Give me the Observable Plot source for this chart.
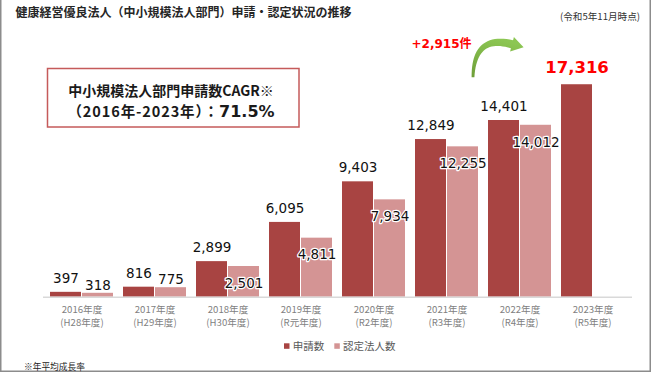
<!DOCTYPE html>
<html><head><meta charset="utf-8">
<script src="https://cdn.jsdelivr.net/npm/d3@7"></script>
<script src="https://cdn.jsdelivr.net/npm/@observablehq/plot@0.6"></script>
<style>
body{margin:0;background:#fff;}
#wrap{position:relative;width:652px;height:373px;overflow:hidden;background:#fff;}
#chart{position:absolute;left:0;top:0;}
#ann{position:absolute;left:0;top:0;pointer-events:none;}
</style></head>
<body>
<div id="wrap">
<div id="chart"></div>
<svg id="ann" width="652" height="373" font-family="'Noto Sans CJK JP', sans-serif">
  <path d="M0.75,0 V371.25 H650.25 V0" fill="none" stroke="#8c8c8c" stroke-width="1.5"/>
  <text x="15.5" y="16.5" font-size="12" font-weight="bold" fill="#262626">健康経営優良法人（中小規模法人部門）申請・認定状況の推移</text>
  <text x="640" y="19.6" text-anchor="end" font-size="9.6" fill="#333">(令和5年11月時点)</text>
  <rect x="47.5" y="68.5" width="251.5" height="58.5" fill="#fff" stroke="#C55A5A" stroke-width="1.5"/>
  <text x="171" y="96" text-anchor="middle" font-size="14" font-weight="bold" fill="#1a1a1a">中小規模法人部門申請数CAGR※</text>
  <text x="171" y="116.6" text-anchor="middle" font-size="14" font-weight="bold" fill="#1a1a1a"><tspan id="period" font-size="14.5" letter-spacing="0.9">（2016年-2023年）：</tspan><tspan id="cagrv" font-family="'DejaVu Sans'" font-size="16">71.5%</tspan></text>
  <g id="legend"></g>
  <text x="24" y="369.5" font-size="8.7" fill="#222">※年平均成長率</text>
</svg>
</div>
<script>
const years = ["2016年度","2017年度","2018年度","2019年度","2020年度","2021年度","2022年度","2023年度"];
const eras = ["H28年度","H29年度","H30年度","R元年度","R2年度","R3年度","R4年度","R5年度"];
const applications = [397, 816, 2899, 6095, 9403, 12849, 14401, 17316];
const certified = [318, 775, 2501, 4811, 7934, 12255, 14012, null];
const seriesNames = ["申請数", "認定法人数"];
const colors = ["#A84442", "#D49494"];

const fmt = d3.format(",");
const appData = years.map((y, i) => ({year: y, value: applications[i]}));
const certData = years.map((y, i) => ({year: y, value: certified[i]})).filter(d => d.value != null);
const tickData = years.map((y, i) => ({year: y, era: eras[i]}));
const last = appData[appData.length - 1];
const prev = appData[appData.length - 2];

const xOpts = {type: "band", domain: years, range: [43, 632], paddingInner: 0.131, paddingOuter: 0.064};
const bw = Plot.scale({x: xOpts}).bandwidth;
const num = "'DejaVu Sans', sans-serif";
const cjk = "'Noto Sans CJK JP', sans-serif";

const chart = Plot.plot({
  width: 652, height: 373,
  marginLeft: 43, marginRight: 20, marginTop: 51, marginBottom: 76,
  x: {...xOpts, axis: null},
  y: {domain: [0, 20000], range: [296.7, 51.3], axis: null},
  marks: [
    Plot.barY(appData, {x: "year", y: "value", fill: colors[0], insetRight: bw / 2}),
    Plot.barY(certData, {x: "year", y: "value", fill: colors[1], insetLeft: bw / 2}),
    Plot.ruleY([0], {stroke: "#d9d9d9", strokeWidth: 1.5}),
    Plot.text(appData.slice(0, -1), {x: "year", y: "value", text: d => fmt(d.value), dx: -bw / 4, dy: -14,
      fontSize: 13.5, fontFamily: num, fill: "#111"}),
    Plot.text([last], {x: "year", y: "value", text: d => fmt(d.value), dx: -bw / 4, dy: -17,
      fontSize: 16.5, fontWeight: "bold", fontFamily: num, fill: "#FF0000"}),
    Plot.text(certData.filter(d => d.value < 1000), {x: "year", y: "value", text: d => fmt(d.value), dx: bw / 4, dy: -8,
      fontSize: 13.5, fontFamily: num, fill: "#111", stroke: "white", strokeWidth: 2.5, paintOrder: "stroke"}),
    Plot.text(certData.filter(d => d.value >= 1000), {x: "year", y: "value", text: d => fmt(d.value), dx: bw / 4, dy: 17,
      fontSize: 13.5, fontFamily: num, fill: "#111", stroke: "white", strokeWidth: 2.5, paintOrder: "stroke"}),
    Plot.text(tickData, {x: "year", frameAnchor: "bottom", text: d => d.year,
      dy: 15, fontSize: 9.6, fill: "#7f7f7f", fontFamily: cjk}),
    Plot.text(tickData, {x: "year", frameAnchor: "bottom", text: d => `(${d.era})`,
      dy: 28.6, fontSize: 9.6, fill: "#7f7f7f", fontFamily: cjk})
  ]
});
document.getElementById("chart").appendChild(chart);

// computed annotation texts
const cagr = Math.pow(applications[applications.length - 1] / applications[0], 1 / (applications.length - 1)) - 1;
document.getElementById("cagrv").textContent = d3.format(".1%")(cagr);
document.getElementById("period").textContent = `（${years[0].slice(0, 4)}年-${years[years.length - 1].slice(0, 4)}年）：`;

// legend
const lg = d3.select("#legend");
const legendX = [284, 334.3];
seriesNames.forEach((name, i) => {
  lg.append("rect").attr("x", legendX[i]).attr("y", 343.3).attr("width", 5.5).attr("height", 5.5).attr("fill", colors[i]);
  lg.append("text").attr("x", legendX[i] + 8.7).attr("y", 350).attr("font-size", 10.5).attr("fill", "#595959").text(name);
});

// growth arrow annotation
const xs = chart.scale("x"), ys = chart.scale("y");
const bx = xs.apply(prev.year), ty = ys.apply(last.value);
const svg = d3.select(chart);
const defs = svg.append("defs");
const grad = defs.append("linearGradient").attr("id", "arrowGrad").attr("x1", 0).attr("y1", 1).attr("x2", 0.3).attr("y2", 0);
grad.append("stop").attr("offset", "0%").attr("stop-color", "#6E9E38");
grad.append("stop").attr("offset", "100%").attr("stop-color", "#8CC653");
const S = [bx - 15, ty - 7], C = [bx - 14, ty - 50], H = [bx + 24, ty - 40];
const left = [], right = [];
for (let k = 0; k <= 24; k++) {
  const t = k / 24;
  const px = (1 - t) ** 2 * S[0] + 2 * (1 - t) * t * C[0] + t * t * H[0];
  const py = (1 - t) ** 2 * S[1] + 2 * (1 - t) * t * C[1] + t * t * H[1];
  const dx = 2 * (1 - t) * (C[0] - S[0]) + 2 * t * (H[0] - C[0]);
  const dy = 2 * (1 - t) * (C[1] - S[1]) + 2 * t * (H[1] - C[1]);
  const L = Math.hypot(dx, dy), nx = -dy / L, ny = dx / L;
  const w = 1.4 + 2.8 * t;
  left.push([px + nx * w, py + ny * w]);
  right.push([px - nx * w, py - ny * w]);
}
const dEx = H[0] - C[0], dEy = H[1] - C[1], LE = Math.hypot(dEx, dEy);
const ux = dEx / LE, uy = dEy / LE, nx = -uy, ny = ux;
const tip = [H[0] + ux * 12, H[1] + uy * 12];
const headA = [H[0] + nx * 7.5, H[1] + ny * 7.5], headB = [H[0] - nx * 7.5, H[1] - ny * 7.5];
const pts = [...left, headA, tip, headB, ...right.reverse()];
svg.append("path").attr("d", "M" + pts.map(p => p[0].toFixed(2) + "," + p[1].toFixed(2)).join("L") + "Z")
  .attr("fill", "url(#arrowGrad)");
svg.append("text").attr("x", bx - 76.5).attr("y", ty - 36.2).attr("text-anchor", "start")
  .attr("font-family", "'DejaVu Sans', 'Noto Sans CJK JP', sans-serif").attr("font-size", 12).attr("font-weight", "bold")
  .attr("fill", "#FF0000").text("+" + fmt(last.value - prev.value) + "件");
</script>
</body></html>
